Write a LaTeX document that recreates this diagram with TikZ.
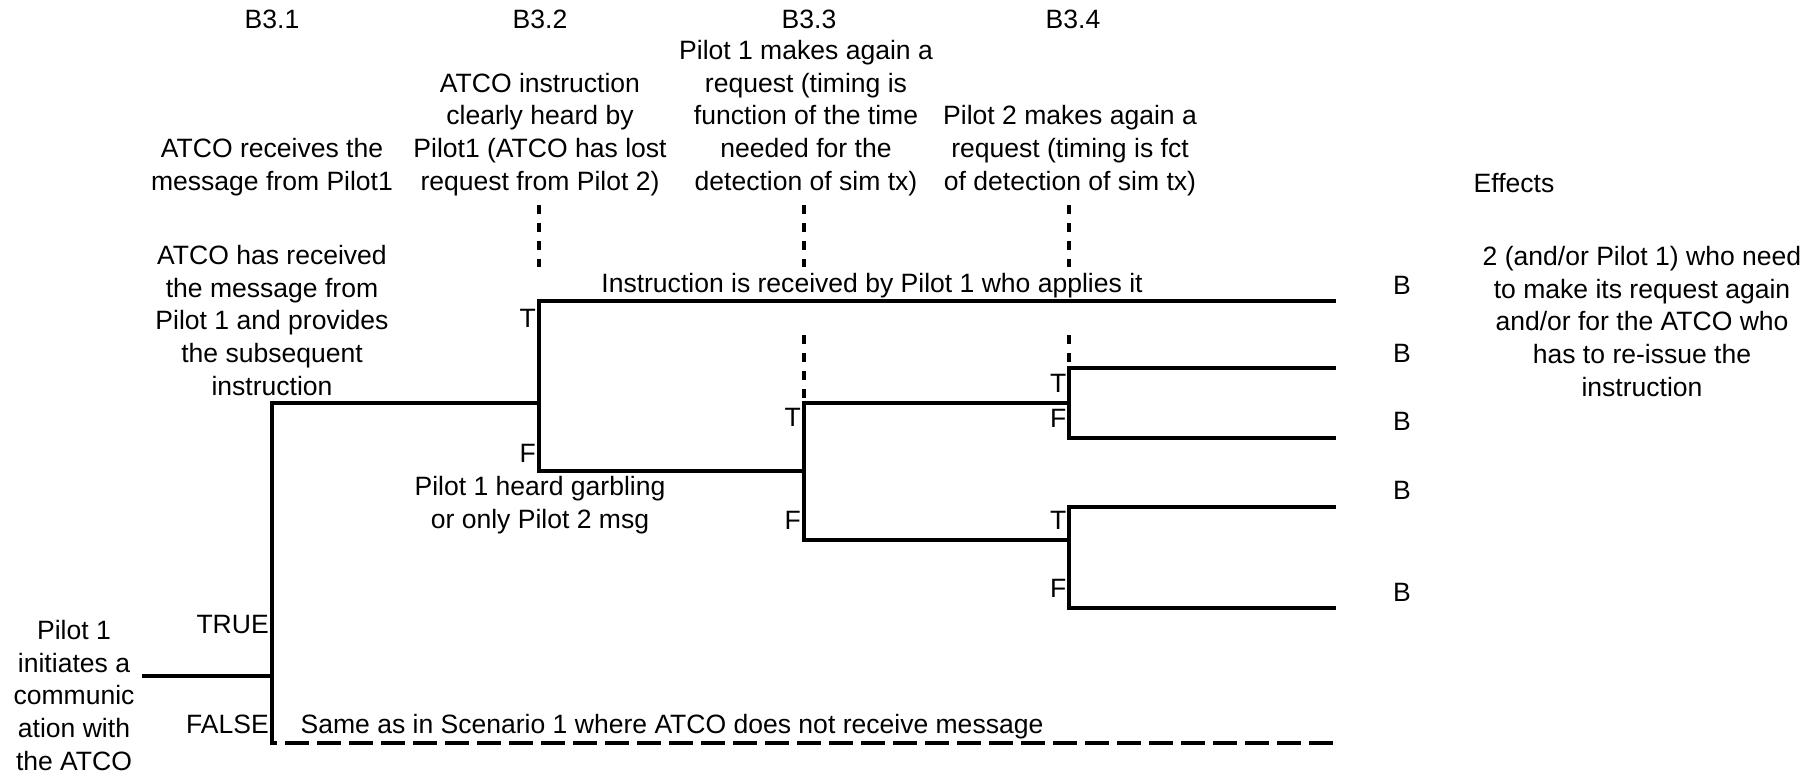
\documentclass[tikz,border=0pt]{standalone}
\usepackage{fontspec}
\setmainfont{Liberation Sans}
\newcommand{\blk}[1]{\begin{tabular}[b]{@{}c@{}}#1\end{tabular}}
\begin{document}
\begin{tikzpicture}[x=0.75pt,y=-0.75pt,
  lbl/.style={inner sep=0pt,font=\fontsize{19.9pt}{24.4pt}\selectfont},
  hline/.style={line width=3.4pt},
  vline/.style={line width=2.3pt,shorten <=-1.7pt,shorten >=-1.7pt},
  marker/.style={line width=2.4pt,dash pattern=on 6.75pt off 6.75pt},
  falseline/.style={line width=3.4pt,dash pattern=on 18pt off 6pt,dash phase=14.25pt}]
\useasboundingbox (0,0) rectangle (1814,774);
% coordinates
\coordinate (s0) at (142,676);
\coordinate (j1) at (272,676);
\coordinate (v1t) at (272,403);
\coordinate (v1b) at (272,743);
\coordinate (e1f) at (1336,743);
\coordinate (v2t) at (539,301);
\coordinate (v2b) at (539,471);
\coordinate (j2) at (539,403);
\coordinate (e2t) at (1336,301);
\coordinate (v3t) at (804,403);
\coordinate (v3b) at (804,540);
\coordinate (j3) at (804,471);
\coordinate (v4at) at (1069,368);
\coordinate (v4ab) at (1069,438);
\coordinate (j4a) at (1069,403);
\coordinate (e4at) at (1336,368);
\coordinate (e4ab) at (1336,438);
\coordinate (v4bt) at (1069,507);
\coordinate (v4bb) at (1069,608);
\coordinate (j4b) at (1069,540);
\coordinate (e4bt) at (1336,507);
\coordinate (e4bb) at (1336,608);
\coordinate (d2a) at (539,205);
\coordinate (d2b) at (539,267);
\coordinate (d3a) at (804,205);
\coordinate (d3b) at (804,267);
\coordinate (d3c) at (804,335);
\coordinate (d4a) at (1069,205);
\coordinate (d4b) at (1069,267);
\coordinate (d4c) at (1069,335);
% tree
\draw[hline] (s0) -- (j1);
\draw[vline] (v1t) -- (v1b);
\draw[hline] (v1t) -- (j2);
\draw[falseline] (v1b) -- (e1f);
\draw[vline] (v2t) -- (v2b);
\draw[hline] (v2t) -- (e2t);
\draw[hline] (v2b) -- (j3);
\draw[vline] (v3t) -- (v3b);
\draw[hline] (v3t) -- (j4a);
\draw[hline] (v3b) -- (j4b);
\draw[vline] (v4at) -- (v4ab);
\draw[hline] (v4at) -- (e4at);
\draw[hline] (v4ab) -- (e4ab);
\draw[vline] (v4bt) -- (v4bb);
\draw[hline] (v4bt) -- (e4bt);
\draw[hline] (v4bb) -- (e4bb);
% dashed markers
\draw[marker] (d2a) -- (d2b);
\draw[marker] (d3a) -- (d3b);
\draw[marker] (d3c) -- (v3t);
\draw[marker] (d4a) -- (d4b);
\draw[marker] (d4c) -- (v4at);
% headers
\node[lbl,anchor=base] (h1) at (272,29) {B3.1};
\node[lbl,anchor=base] (h2) at (540,29) {B3.2};
\node[lbl,anchor=base] (h3) at (809,29) {B3.3};
\node[lbl,anchor=base] (h4) at (1073,29) {B3.4};
\node[lbl,anchor=base] (q1) at (272,190) {\blk{ATCO receives the\\message from Pilot1}};
\node[lbl,anchor=base] (q2) at (540,190) {\blk{ATCO instruction\\clearly heard by\\Pilot1 (ATCO has lost\\request from Pilot 2)}};
\node[lbl,anchor=base] (q3) at (806,190) {\blk{Pilot 1 makes again a\\request (timing is\\function of the time\\needed for the\\detection of sim tx)}};
\node[lbl,anchor=base] (q4) at (1070,190) {\blk{Pilot 2 makes again a\\request (timing is fct\\of detection of sim tx)}};
\node[lbl,anchor=base] (eff) at (1514,192) {Effects};
\node[lbl,anchor=base] (effd) at (1642,396) {\blk{2 (and/or Pilot 1) who need\\to make its request again\\and/or for the ATCO who\\has to re-issue the\\instruction}};
% branch texts
\node[lbl,anchor=base] (start) at (74,770) {\blk{Pilot 1\\initiates a\\communic\\ation with\\the ATCO}};
\node[lbl,anchor=base] (b1t) at (272,395) {\blk{ATCO has received\\the message from\\Pilot 1 and provides\\the subsequent\\instruction}};
\node[lbl,anchor=base] (b2t) at (872,292) {Instruction is received by Pilot 1 who applies it};
\node[lbl,anchor=base] (b2f) at (540,528) {\blk{Pilot 1 heard garbling\\or only Pilot 2 msg}};
\node[lbl,anchor=base] (b1f) at (672,733) {Same as in Scenario 1 where ATCO does not receive message};
\node[lbl,anchor=base east] (tr) at (269,633) {TRUE};
\node[lbl,anchor=base east] (fa) at (269,733) {FALSE};
\node[lbl,anchor=base east] (t2) at (536,327) {T};
\node[lbl,anchor=base east] (f2) at (536,462) {F};
\node[lbl,anchor=base east] (t3) at (801,426) {T};
\node[lbl,anchor=base east] (f3) at (801,529) {F};
\node[lbl,anchor=base east] (t4a) at (1066.5,392) {T};
\node[lbl,anchor=base east] (f4a) at (1066.5,427) {F};
\node[lbl,anchor=base east] (t4b) at (1066.5,529) {T};
\node[lbl,anchor=base east] (f4b) at (1066.5,597) {F};
% outcomes
\node[lbl,anchor=base] (o1) at (1402,294) {B};
\node[lbl,anchor=base] (o2) at (1402,362) {B};
\node[lbl,anchor=base] (o3) at (1402,430) {B};
\node[lbl,anchor=base] (o4) at (1402,499) {B};
\node[lbl,anchor=base] (o5) at (1402,601) {B};
\end{tikzpicture}
\end{document}
